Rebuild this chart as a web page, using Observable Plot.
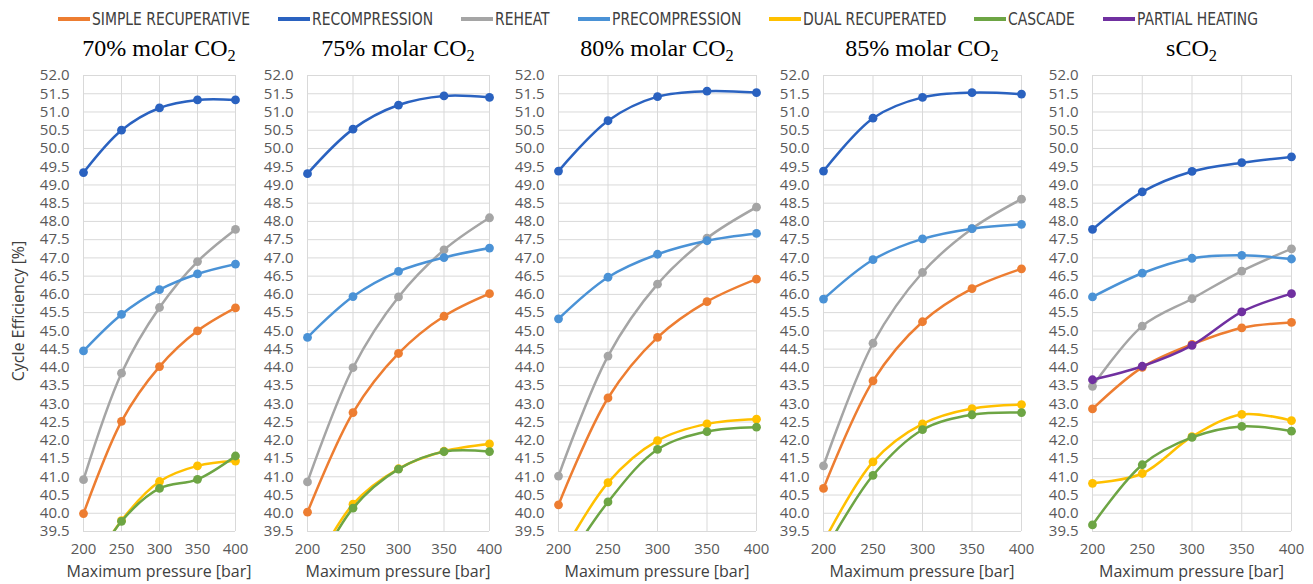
<!DOCTYPE html>
<html>
<head>
<meta charset="utf-8">
<script src="https://cdn.jsdelivr.net/npm/d3@7"></script>
<script src="https://cdn.jsdelivr.net/npm/@observablehq/plot@0.6"></script>
<style>
  html, body { margin: 0; padding: 0; background: #fff; }
  #root { position: relative; width: 1313px; height: 584px; overflow: hidden; font-family: "Open Sans", sans-serif; }
  .panel { position: absolute; top: 60px; }
  .title { position: absolute; top: 36px; font-family: "Liberation Serif", "Times New Roman", serif; font-size: 24px; line-height: 24px; white-space: nowrap; transform: translateX(-50%); color: #000; }
  .title sub { font-size: 0.68em; vertical-align: -0.32em; line-height: 0; }
  .xlabel { position: absolute; top: 563px; font-size: 16px; line-height: 16px; color: #404040; white-space: nowrap; transform: translateX(-50%); }
  .ylabel { position: absolute; left: 18px; top: 311px; font-size: 16px; line-height: 16px; color: #404040; white-space: nowrap; transform: translate(-50%, -50%) rotate(-90deg); }
  #legend { position: absolute; top: 19px; left: 58px; display: flex; align-items: center; gap: 28px; transform: translateY(-50%); }
  .item { display: flex; align-items: center; }
  .sw { width: 32px; height: 4px; margin-right: 2px; }
  .tw { overflow: visible; white-space: nowrap; }
  .tx { display: inline-block; font-family: "Liberation Sans Narrow", "DejaVu Sans Condensed", "Liberation Sans", sans-serif; font-size: 17px; line-height: 17px; color: #404040; transform-origin: 0 50%; white-space: nowrap; }
</style>
</head>
<body>
<div id="root"></div>
<script>
// ---------- data ----------
const pressures = [200, 250, 300, 350, 400];
const yTicks = [39.5, 40.0, 40.5, 41.0, 41.5, 42.0, 42.5, 43.0, 43.5, 44.0, 44.5, 45.0, 45.5,
                46.0, 46.5, 47.0, 47.5, 48.0, 48.5, 49.0, 49.5, 50.0, 50.5, 51.0, 51.5, 52.0];
const panelTitles = ["70% molar CO", "75% molar CO", "80% molar CO", "85% molar CO", "sCO"];
const titleSubscript = "2";
const cycleNames = ["SIMPLE RECUPERATIVE", "RECOMPRESSION", "REHEAT", "PRECOMPRESSION",
                    "DUAL RECUPERATED", "CASCADE", "PARTIAL HEATING"];
const xAxisTitle = "Maximum pressure [bar]";
const yAxisTitle = "Cycle Efficiency [%]";

// one row per panel (70%, 75%, 80%, 85%, sCO2), values at 200..400 bar
const simpleRecuperative = [
  [39.99, 42.52, 44.02, 45.00, 45.63],
  [40.03, 42.76, 44.38, 45.40, 46.02],
  [40.23, 43.16, 44.82, 45.80, 46.42],
  [40.68, 43.63, 45.25, 46.16, 46.70],
  [42.86, 44.00, 44.63, 45.08, 45.23]
];
const recompression = [
  [49.34, 50.50, 51.11, 51.33, 51.33],
  [49.31, 50.53, 51.19, 51.44, 51.40],
  [49.38, 50.76, 51.42, 51.57, 51.53],
  [49.38, 50.83, 51.40, 51.53, 51.49],
  [47.78, 48.81, 49.37, 49.61, 49.77]
];
const reheat = [
  [40.92, 43.84, 45.64, 46.90, 47.78],
  [40.86, 43.99, 45.93, 47.22, 48.10],
  [41.02, 44.31, 46.28, 47.54, 48.39],
  [41.30, 44.66, 46.60, 47.80, 48.61],
  [43.48, 45.13, 45.88, 46.64, 47.25]
];
const precompression = [
  [44.45, 45.45, 46.13, 46.56, 46.83],
  [44.82, 45.94, 46.63, 47.01, 47.27],
  [45.33, 46.47, 47.10, 47.47, 47.67],
  [45.87, 46.95, 47.52, 47.80, 47.92],
  [45.93, 46.58, 46.99, 47.07, 46.97]
];
const dualRecuperated = [
  [38.10, 39.80, 40.87, 41.30, 41.43],
  [38.20, 40.25, 41.22, 41.70, 41.90],
  [38.70, 40.84, 41.99, 42.45, 42.58],
  [39.20, 41.41, 42.45, 42.87, 42.98],
  [40.82, 41.09, 42.10, 42.71, 42.54]
];
const cascade = [
  [38.10, 39.78, 40.68, 40.93, 41.57],
  [38.00, 40.14, 41.21, 41.69, 41.69],
  [38.30, 40.31, 41.75, 42.24, 42.36],
  [38.90, 41.04, 42.29, 42.70, 42.76],
  [39.68, 41.33, 42.08, 42.38, 42.25]
];
const partialHeating = [null, null, null, null, [43.66, 44.03, 44.60, 45.52, 46.02]];

// ---------- styles / layout ----------
const cycleColors = ["#ED7D31", "#2A62C0", "#A5A5A5", "#4A92D6", "#FFC000", "#6DA544", "#7030A0"];
const allSeries = [simpleRecuperative, recompression, reheat, precompression, dualRecuperated, cascade, partialHeating];
const plotLefts = [83, 307, 558, 823, 1092];
const plotWidths = [152, 182, 198, 198, 199];
const ML = 62, MR = 12, MT = 15, MB = 53, SVG_H = 524;
const yMin = yTicks[0], yMax = yTicks[yTicks.length - 1];

const root = document.getElementById("root");

// legend
const legend = document.createElement("div");
legend.id = "legend";
root.appendChild(legend);
const texts = [];
cycleNames.forEach((name, k) => {
  const item = document.createElement("div");
  item.className = "item";
  const sw = document.createElement("div");
  sw.className = "sw";
  sw.style.background = cycleColors[k];
  const tw = document.createElement("div");
  tw.className = "tw";
  const tx = document.createElement("span");
  tx.className = "tx";
  tx.textContent = name;
  tw.appendChild(tx);
  item.appendChild(sw);
  item.appendChild(tw);
  legend.appendChild(item);
  texts.push([tw, tx]);
});
// condense legend text to match the reference's narrow face
const refW = texts[0][1].getBoundingClientRect().width;
const k = 158 / refW;
texts.forEach(([tw, tx]) => {
  const w = tx.getBoundingClientRect().width;
  tx.style.transform = `scaleX(${k})`;
  tw.style.width = (w * k) + "px";
});

// y axis title
const yl = document.createElement("div");
yl.className = "ylabel";
yl.textContent = yAxisTitle;
root.appendChild(yl);

panelTitles.forEach((title, i) => {
  const marks = [
    Plot.gridX(pressures, {stroke: "#d9d9d9", strokeOpacity: 1, strokeWidth: 1}),
    Plot.gridY(yTicks, {stroke: "#d9d9d9", strokeOpacity: 1, strokeWidth: 1})
  ];
  allSeries.forEach((series, s) => {
    const vals = series[i];
    if (!vals) return;
    const rows = vals.map((v, j) => ({p: pressures[j], v, cycle: cycleNames[s]}));
    marks.push(Plot.line(rows, {x: "p", y: "v", stroke: cycleColors[s], strokeWidth: 2.5, curve: "catmull-rom", clip: true}));
    marks.push(Plot.dot(rows.filter(d => d.v >= yMin), {x: "p", y: "v", fill: cycleColors[s], r: 4.4}));
  });
  const chart = Plot.plot({
    width: ML + plotWidths[i] + MR,
    height: SVG_H,
    marginLeft: ML, marginRight: MR, marginTop: MT, marginBottom: MB,
    style: {fontFamily: "'Open Sans', sans-serif", fontSize: "15px", color: "#595959", background: "transparent", overflow: "visible"},
    x: {domain: [pressures[0], pressures[pressures.length - 1]], ticks: pressures, tickSize: 0, tickPadding: 12, label: null, tickFormat: d => String(d)},
    y: {domain: [yMin, yMax], ticks: yTicks, tickSize: 0, tickPadding: 14, label: null, tickFormat: d3.format(".1f")},
    marks
  });
  const wrap = document.createElement("div");
  wrap.className = "panel";
  wrap.style.left = (plotLefts[i] - ML) + "px";
  wrap.appendChild(chart);
  root.appendChild(wrap);

  const t = document.createElement("div");
  t.className = "title";
  t.style.left = (plotLefts[i] + plotWidths[i] / 2) + "px";
  t.appendChild(document.createTextNode(title));
  const sub = document.createElement("sub");
  sub.textContent = titleSubscript;
  t.appendChild(sub);
  root.appendChild(t);

  const xl = document.createElement("div");
  xl.className = "xlabel";
  xl.style.left = (plotLefts[i] + plotWidths[i] / 2) + "px";
  xl.textContent = xAxisTitle;
  root.appendChild(xl);
});
</script>
</body>
</html>
